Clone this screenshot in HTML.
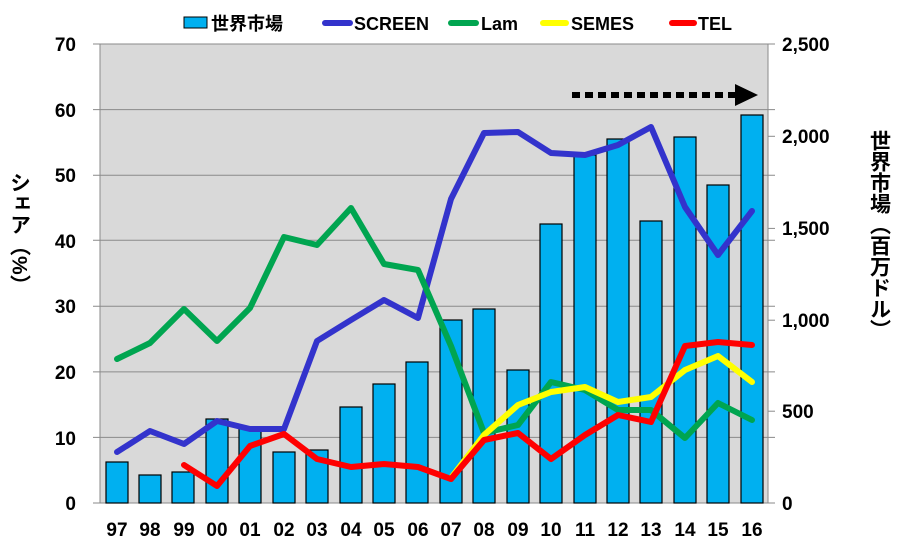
<!DOCTYPE html>
<html><head><meta charset="utf-8"><style>body{margin:0;background:#fff}svg{display:block}text{font-family:"Liberation Sans","Noto Sans CJK JP",sans-serif;font-weight:bold}</style></head><body>
<svg width="900" height="552" xmlns="http://www.w3.org/2000/svg">
<rect width="900" height="552" fill="#fff"/>
<rect x="100" y="44" width="668" height="459" fill="#d9d9d9"/>
<g stroke="#8a8a8a" stroke-width="1">
<line x1="93" y1="44" x2="775" y2="44"/><line x1="93" y1="109.6" x2="775" y2="109.6"/><line x1="93" y1="175.2" x2="775" y2="175.2"/><line x1="93" y1="240.3" x2="775" y2="240.3"/><line x1="93" y1="306.3" x2="775" y2="306.3"/><line x1="93" y1="371.9" x2="775" y2="371.9"/><line x1="93" y1="437.4" x2="775" y2="437.4"/><line x1="93" y1="503" x2="775" y2="503"/>
<line x1="768" y1="136.3" x2="775" y2="136.3"/><line x1="768" y1="228.4" x2="775" y2="228.4"/><line x1="768" y1="320.2" x2="775" y2="320.2"/><line x1="768" y1="411.2" x2="775" y2="411.2"/>
<line x1="100" y1="44" x2="100" y2="503"/><line x1="768" y1="44" x2="768" y2="503"/>
</g>
<g fill="#00b0f0" stroke="#000" stroke-width="1.2">
<rect x="106" y="462" width="22" height="41"/><rect x="139" y="475" width="22" height="28"/><rect x="172" y="472" width="22" height="31"/><rect x="206" y="419" width="22" height="84"/><rect x="239" y="428" width="22" height="75"/><rect x="273" y="452" width="22" height="51"/><rect x="306" y="450" width="22" height="53"/><rect x="340" y="407" width="22" height="96"/><rect x="373" y="384" width="22" height="119"/><rect x="406" y="362" width="22" height="141"/><rect x="440" y="320" width="22" height="183"/><rect x="473" y="309" width="22" height="194"/><rect x="507" y="370" width="22" height="133"/><rect x="540" y="224" width="22" height="279"/><rect x="574" y="155" width="22" height="348"/><rect x="607" y="139" width="22" height="364"/><rect x="640" y="221" width="22" height="282"/><rect x="674" y="137" width="22" height="366"/><rect x="707" y="185" width="22" height="318"/><rect x="741" y="115" width="22" height="388"/>
</g>
<g fill="none" stroke-width="6" stroke-linejoin="round" stroke-linecap="round">
<polyline stroke="#3333cc" points="117,452 150,431 184,444 217,421 250,429 284,429 317,341 351,320 384,300 418,318 451,199 484,133 518,132 551,153 585,155 618,145 651,127 685,207 718,255 752,211"/>
<polyline stroke="#00a550" points="117,359 150,343 184,309 217,341 250,308 284,237 317,245 351,208 384,264 418,270 451,346 484,433 518,425 551,382 585,390 618,410 651,410 685,438 718,403 752,420"/>
<polyline stroke="#ffff00" points="451,478 484,435 518,405 551,392 585,387 618,402 651,397 685,370 718,356 752,382"/>
<polyline stroke="#ff0000" points="184,465 217,486 250,446 284,434 317,459 351,467 384,464 418,467 451,479 484,440 518,433 551,459 585,435 618,415 651,422 685,346 718,342 752,345"/>
</g>
<line x1="572" y1="95" x2="738" y2="95" stroke="#000" stroke-width="6" stroke-dasharray="8,5"/>
<polygon points="735,84 758,95 735,106" fill="#000"/>
<g font-size="19" text-anchor="end" fill="#000">
<text x="76" y="51">70</text><text x="76" y="117">60</text><text x="76" y="182">50</text><text x="76" y="248">40</text><text x="76" y="313">30</text><text x="76" y="379">20</text><text x="76" y="445">10</text><text x="76" y="510">0</text>
</g>
<g font-size="19" text-anchor="start" fill="#000">
<text x="782" y="51">2,500</text><text x="782" y="143">2,000</text><text x="782" y="235">1,500</text><text x="782" y="327">1,000</text><text x="782" y="418">500</text><text x="782" y="510">0</text>
</g>
<g font-size="19" text-anchor="middle" fill="#000">
<text x="117" y="536">97</text><text x="150" y="536">98</text><text x="184" y="536">99</text><text x="217" y="536">00</text><text x="250" y="536">01</text><text x="284" y="536">02</text><text x="317" y="536">03</text><text x="351" y="536">04</text><text x="384" y="536">05</text><text x="418" y="536">06</text><text x="451" y="536">07</text><text x="484" y="536">08</text><text x="518" y="536">09</text><text x="551" y="536">10</text><text x="585" y="536">11</text><text x="618" y="536">12</text><text x="651" y="536">13</text><text x="685" y="536">14</text><text x="718" y="536">15</text><text x="752" y="536">16</text>
</g>
<text font-size="21" x="19" y="172" style="writing-mode:vertical-rl">シェア（%）</text>
<text font-size="21" x="879" y="130" style="writing-mode:vertical-rl">世界市場（百万ドル）</text>
<g font-size="18">
<rect x="184" y="17" width="23" height="11" fill="#00b0f0" stroke="#000"/>
<text x="211" y="30">世界市場</text>
<line x1="325" y1="23" x2="350" y2="23" stroke="#3333cc" stroke-width="6" stroke-linecap="round"/>
<text x="354" y="30">SCREEN</text>
<line x1="451" y1="23" x2="476" y2="23" stroke="#00a550" stroke-width="6" stroke-linecap="round"/>
<text x="481" y="30">Lam</text>
<line x1="543" y1="23" x2="566" y2="23" stroke="#ffff00" stroke-width="6" stroke-linecap="round"/>
<text x="571" y="30">SEMES</text>
<line x1="672" y1="23" x2="694" y2="23" stroke="#ff0000" stroke-width="6" stroke-linecap="round"/>
<text x="698" y="30">TEL</text>
</g>
</svg>
</body></html>
